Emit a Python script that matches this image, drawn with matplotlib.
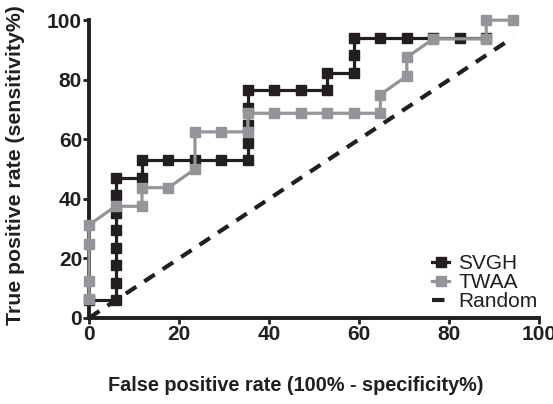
import matplotlib.pyplot as plt
import numpy as np

plt.rcParams['font.family'] = ['Liberation Sans', 'DejaVu Sans']

# SVGH: 17 positives / 17 negatives (values in %)
svgh_x = [0, 5.88, 5.88, 5.88, 5.88, 5.88, 5.88, 5.88, 5.88, 11.76, 11.76, 17.65,
          23.53, 29.41, 35.29, 35.29, 35.29, 35.29, 35.29, 41.18, 47.06, 52.94,
          52.94, 58.82, 58.82, 58.82, 64.71, 70.59, 76.47, 82.35, 88.24]
svgh_y = [5.88, 5.88, 11.76, 17.65, 23.53, 29.41, 35.29, 41.18, 47.06, 47.06, 52.94,
          52.94, 52.94, 52.94, 52.94, 58.82, 64.71, 70.59, 76.47, 76.47, 76.47,
          76.47, 82.35, 82.35, 88.24, 94.12, 94.12, 94.12, 94.12, 94.12, 94.12]

# TWAA: 16 positives / 17 negatives
twaa_x = [0, 0, 0, 0, 5.88, 11.76, 11.76, 17.65, 23.53, 23.53, 29.41, 35.29,
          35.29, 41.18, 47.06, 52.94, 58.82, 64.71, 64.71, 70.59, 70.59, 76.47,
          88.24, 88.24, 94.12]
twaa_y = [6.25, 12.5, 25.0, 31.25, 37.5, 37.5, 43.75, 43.75, 50.0, 62.5, 62.5,
          62.5, 68.75, 68.75, 68.75, 68.75, 68.75, 68.75, 75.0, 81.25, 87.5,
          93.75, 93.75, 100.0, 100.0]

random_x = [0, 94.12]
random_y = [0, 94.12]

fig = plt.figure(figsize=(5.53, 4.04), dpi=100)
ax = fig.add_axes([0.161, 0.213, 0.814, 0.737])

ax.plot(svgh_x, svgh_y, color='#231f20', lw=2.3, marker='s', ms=6.5,
        label='SVGH', zorder=3)
ax.plot(twaa_x, twaa_y, color='#939598', lw=2.3, marker='s', ms=6.5,
        label='TWAA', zorder=4)
ax.plot(random_x, random_y, color='#231f20', lw=3, ls=(0, (3, 2.3)),
        label='Random', zorder=2)

ax.set_xlim(0, 100)
ax.set_ylim(0, 100)
ax.set_xticks(np.arange(0, 101, 20))
ax.set_yticks(np.arange(0, 101, 20))
for lab in ax.get_xticklabels() + ax.get_yticklabels():
    lab.set_fontweight('bold')
    lab.set_fontsize(15)
ax.tick_params(direction='out', length=4, width=2, color='#231f20',
               labelcolor='#231f20', pad=1)

for s in ['top', 'right']:
    ax.spines[s].set_visible(False)
for s in ['left', 'bottom']:
    ax.spines[s].set_linewidth(2.8)
    ax.spines[s].set_color('#231f20')

ax.set_xlabel('False positive rate (100% - specificity%)', fontsize=14.3,
              fontweight='bold', color='#231f20')
ax.set_ylabel('True positive rate (sensitivity%)', fontsize=15.3,
              fontweight='bold', color='#231f20')
ax.xaxis.set_label_coords(0.46, -0.195)
ax.yaxis.set_label_coords(-0.142, 0.513)

leg = ax.legend(loc='lower right', frameon=False, fontsize=15,
                handlelength=0.8, handletextpad=0.45, labelspacing=0.0,
                borderaxespad=0.0, bbox_to_anchor=(1.015, -0.005))
for t in leg.get_texts():
    t.set_color('#231f20')

for s in ax.spines.values():
    s.set_clip_on(False)
for line in ax.lines:
    line.set_clip_on(False)

fig.savefig('out.png', dpi=100)
